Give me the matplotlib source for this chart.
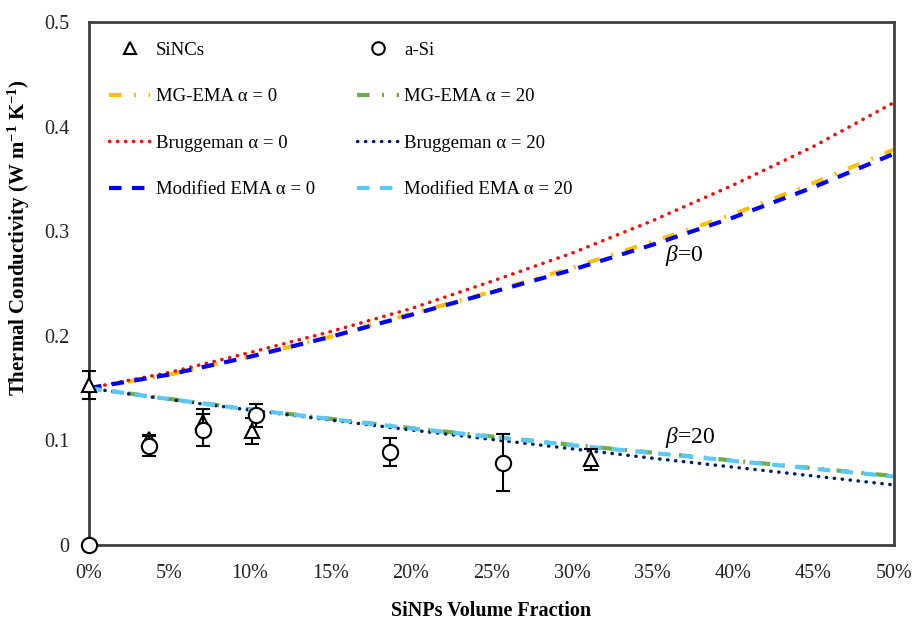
import matplotlib
matplotlib.use("Agg")
import matplotlib.pyplot as plt
import numpy as np

plt.rcParams['font.family'] = ['Liberation Serif', 'DejaVu Serif']
plt.rcParams['mathtext.fontset'] = 'custom'
plt.rcParams['mathtext.rm'] = 'Liberation Serif'
plt.rcParams['mathtext.it'] = 'Liberation Serif:italic'
plt.rcParams['mathtext.bf'] = 'Liberation Serif:bold'

# volume fraction (%) for the model curves
frac = [0, 5, 10, 15, 20, 25, 30, 35, 40, 45, 50]

# beta = 0 curves
mg_a0 = [0.150, 0.163, 0.180, 0.199, 0.221, 0.242, 0.265, 0.290, 0.316, 0.346, 0.378]
brug_a0 = [0.150, 0.165, 0.184, 0.204, 0.226, 0.252, 0.279, 0.310, 0.344, 0.381, 0.423]
mod_a0 = [0.150, 0.163, 0.180, 0.199, 0.220, 0.2415, 0.263, 0.287, 0.313, 0.342, 0.374]

# beta = 20 curves
mg_a20 = [0.150, 0.1397, 0.1297, 0.1207, 0.1118, 0.1038, 0.0958, 0.0883, 0.0808, 0.0734, 0.0660]
brug_a20 = [0.150, 0.139, 0.129, 0.1195, 0.110, 0.101, 0.092, 0.083, 0.0745, 0.066, 0.0574]
mod_a20 = [0.150, 0.1395, 0.1295, 0.1205, 0.1115, 0.1035, 0.0955, 0.088, 0.0805, 0.073, 0.0655]

# measured points
sincs_x = [0, 3.7, 7.1, 10.1, 31.2]
sincs_y = [0.153, 0.101, 0.118, 0.109, 0.082]
sincs_err = [0.013, 0.004, 0.012, 0.012, 0.010]

asi_x = [0, 3.7, 7.1, 10.4, 18.7, 25.7]
asi_y = [0.0, 0.0946, 0.110, 0.124, 0.089, 0.0787]
asi_err = [0.0, 0.0095, 0.015, 0.011, 0.013, 0.027]

xticks = [0, 5, 10, 15, 20, 25, 30, 35, 40, 45, 50]
yticks = [0, 0.1, 0.2, 0.3, 0.4, 0.5]
ytick_labels = ['0', '0.1', '0.2', '0.3', '0.4', '0.5']

fig = plt.figure(figsize=(9.13, 6.24), dpi=100)
ax = fig.add_axes([0.0975, 0.1266, 0.8815, 0.8381])

dashdot = (0, (3, 3, 0.5, 3))
dashed = (0, (3, 2.5))
dotted = (0, (0.1, 2.2))

h_mg0, = ax.plot(frac, mg_a0, color='#FFC000', lw=3, ls=dashdot, label='MG-EMA \u03b1 = 0')
h_mg20, = ax.plot(frac, mg_a20, color='#70AD47', lw=3, ls=dashdot, label='MG-EMA \u03b1 = 20')
h_br0, = ax.plot(frac, brug_a0, color='#FF0000', lw=2.5, ls=dotted,
                 dash_capstyle='round', label='Bruggeman \u03b1 = 0')
h_br20, = ax.plot(frac, brug_a20, color='#002060', lw=2.5, ls=dotted,
                  dash_capstyle='round', label='Bruggeman \u03b1 = 20')
h_mod0, = ax.plot(frac, mod_a0, color='#0000FF', lw=3, ls=dashed, label='Modified EMA \u03b1 = 0')
h_mod20, = ax.plot(frac, mod_a20, color='#5BC8F5', lw=3, ls=dashed, label='Modified EMA \u03b1 = 20')

eb1 = ax.errorbar(sincs_x, sincs_y, yerr=sincs_err, fmt='^', color='black', mfc='white',
                  mec='black', ms=10, mew=1.5, ecolor='black', elinewidth=1.5,
                  capsize=5, capthick=1.5, clip_on=False, zorder=5)
eb2 = ax.errorbar(asi_x, asi_y, yerr=asi_err, fmt='o', color='black', mfc='white',
                  mec='black', ms=11, mew=1.5, ecolor='black', elinewidth=1.5,
                  capsize=5, capthick=1.5, clip_on=False, zorder=6)
for eb in (eb1, eb2):
    for part in eb.lines[1] + eb.lines[2]:
        part.set_clip_on(False)

h_s, = ax.plot([], [], '^', mfc='white', mec='black', ms=8, mew=1.5, label='SiNCs')
h_a, = ax.plot([], [], 'o', mfc='white', mec='black', ms=9, mew=1.5, label='a-Si')

handles = [h_s, h_mg0, h_br0, h_mod0, h_a, h_mg20, h_br20, h_mod20]
ax.legend(handles=handles, labels=[h.get_label() for h in handles], ncol=2,
          loc='upper left', bbox_to_anchor=(0.025, 0.963), frameon=False,
          fontsize=13.5, handlelength=2.2, handletextpad=0.3, labelspacing=1.57,
          columnspacing=2.25, borderpad=0, borderaxespad=0)

ax.text(35.8, 0.277, r'$\beta$=0', fontsize=17, ha='left', va='center')
ax.text(35.8, 0.1025, r'$\beta$=20', fontsize=17, ha='left', va='center')

ax.set_xlim(0, 50)
ax.set_ylim(0, 0.5)
ax.set_xticks(xticks)
ax.set_xticklabels(['%d%%' % t for t in xticks])
ax.set_yticks(yticks)
ax.set_yticklabels(ytick_labels)
ax.tick_params(length=0, labelsize=14.5, colors='#222222')
ax.tick_params(axis='x', pad=14)
ax.tick_params(axis='y', pad=14)

for s in ax.spines.values():
    s.set_color('#404040')
    s.set_linewidth(2)

ax.set_xlabel('SiNPs Volume Fraction', fontsize=14.5, fontweight='bold')
ax.xaxis.set_label_coords(0.5, -0.108)
ax.set_ylabel(r'Thermal Conductivity (W m$^{\mathbf{-1}}$ K$^{\mathbf{-1}}$)',
              fontsize=15, fontweight='bold')
ax.yaxis.set_label_coords(-0.071, 0.587)

fig.savefig('out.png', dpi=100)
